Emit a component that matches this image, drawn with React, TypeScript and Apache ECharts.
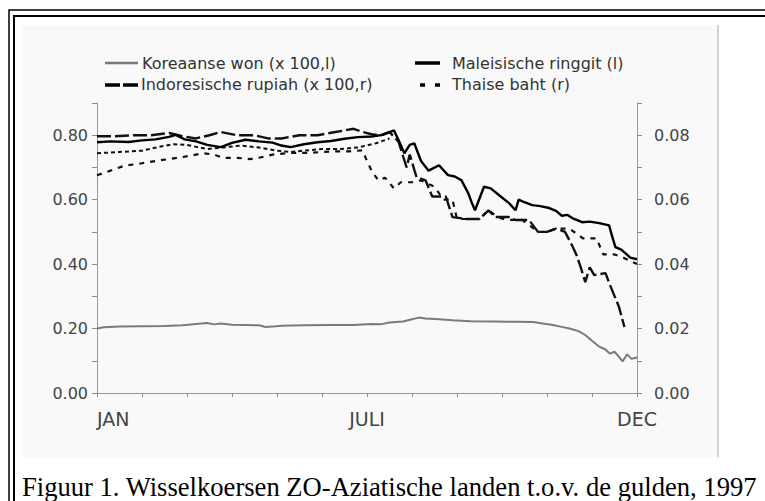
import React, { useEffect, useRef } from "react";
import * as echarts from "echarts";

// x = month index (0 = begin januari, 12 = eind december)
const X_LABELS: Record<number, string> = { 0: "JAN", 6: "JULI", 12: "DEC" };

const NAME_KRW = "Koreaanse won (x 100,l)";
const NAME_MYR = "Maleisische ringgit (l)";
const NAME_IDR = "Indoresische rupiah (x 100,r)";
const NAME_THB = "Thaise baht (r)";

// left axis
const KRW: [number, number][] = [
  [0, 0.2], [0.15, 0.204], [0.5, 0.206], [1.0, 0.207], [1.5, 0.208], [1.9, 0.21], [2.2, 0.214],
  [2.45, 0.217], [2.6, 0.213], [2.75, 0.216], [3.0, 0.212], [3.3, 0.211], [3.6, 0.21], [3.75, 0.205],
  [3.9, 0.206], [4.1, 0.209], [4.6, 0.21], [5.2, 0.211], [5.7, 0.211], [6.1, 0.214], [6.3, 0.213],
  [6.5, 0.219], [6.8, 0.222], [7.0, 0.229], [7.15, 0.234], [7.3, 0.231], [7.6, 0.229], [7.9, 0.226],
  [8.3, 0.223], [8.8, 0.222], [9.3, 0.221], [9.7, 0.22], [9.9, 0.216], [10.1, 0.212], [10.3, 0.206],
  [10.5, 0.2], [10.7, 0.192], [10.85, 0.18], [11.0, 0.162], [11.15, 0.145], [11.3, 0.135],
  [11.4, 0.122], [11.5, 0.128], [11.6, 0.112], [11.68, 0.098], [11.78, 0.12], [11.88, 0.106], [12.0, 0.11],
];

// left axis
const MYR: [number, number][] = [
  [0, 0.778], [0.3, 0.781], [0.7, 0.779], [1.0, 0.784], [1.3, 0.787], [1.6, 0.795], [1.75, 0.801],
  [1.95, 0.787], [2.2, 0.781], [2.45, 0.77], [2.75, 0.763], [3.0, 0.776], [3.3, 0.786], [3.6, 0.781],
  [3.9, 0.777], [4.1, 0.768], [4.3, 0.763], [4.6, 0.772], [4.9, 0.778], [5.2, 0.782], [5.5, 0.789],
  [5.8, 0.794], [6.1, 0.796], [6.35, 0.801], [6.6, 0.815], [6.7, 0.785], [6.83, 0.744], [6.95, 0.77],
  [7.05, 0.775], [7.2, 0.72], [7.37, 0.69], [7.6, 0.707], [7.8, 0.676], [7.95, 0.672], [8.1, 0.66],
  [8.25, 0.62], [8.33, 0.59], [8.4, 0.567], [8.6, 0.64], [8.75, 0.635], [8.95, 0.612], [9.15, 0.59],
  [9.3, 0.567], [9.37, 0.6], [9.5, 0.592], [9.67, 0.583], [9.85, 0.58], [10.05, 0.574], [10.2, 0.565],
  [10.33, 0.55], [10.45, 0.553], [10.56, 0.543], [10.78, 0.53], [10.95, 0.532], [11.16, 0.527],
  [11.38, 0.52], [11.45, 0.485], [11.52, 0.453], [11.65, 0.445], [11.74, 0.434], [11.85, 0.42], [12.0, 0.415],
];

// right axis
const IDR: [number, number][] = [
  [0, 0.0797], [0.4, 0.0797], [0.8, 0.08], [1.2, 0.08], [1.6, 0.0807], [1.9, 0.0797], [2.2, 0.079],
  [2.5, 0.08], [2.75, 0.081], [3.1, 0.08], [3.5, 0.08], [3.8, 0.079], [4.1, 0.079], [4.5, 0.08],
  [4.9, 0.08], [5.3, 0.081], [5.7, 0.082], [5.9, 0.081], [6.1, 0.0803], [6.3, 0.08], [6.5, 0.081],
  [6.7, 0.078], [6.88, 0.07], [6.95, 0.074], [7.1, 0.067], [7.3, 0.066], [7.45, 0.061], [7.75, 0.061],
  [7.9, 0.0546], [8.2, 0.054], [8.5, 0.054], [8.7, 0.0567], [8.85, 0.0546], [9.15, 0.0546],
  [9.3, 0.0537], [9.6, 0.0537], [9.8, 0.05], [10.0, 0.05], [10.2, 0.051], [10.4, 0.05], [10.55, 0.046],
  [10.65, 0.043], [10.75, 0.039], [10.85, 0.0344], [10.95, 0.039], [11.05, 0.0366], [11.3, 0.0372],
  [11.4, 0.0335], [11.6, 0.0267], [11.72, 0.0205],
];

// right axis
const THB: [number, number][] = [
  [0, 0.0676], [0.3, 0.069], [0.6, 0.0705], [1.0, 0.0713], [1.4, 0.0722], [1.8, 0.073], [2.1, 0.0737],
  [2.35, 0.0744], [2.6, 0.074], [2.8, 0.073], [3.1, 0.073], [3.4, 0.0726], [3.6, 0.073], [3.9, 0.074],
  [4.3, 0.0745], [4.7, 0.0745], [5.0, 0.0748], [5.3, 0.075], [5.6, 0.075], [5.9, 0.0753], [6.0, 0.072],
  [6.1, 0.069], [6.25, 0.066], [6.4, 0.0668], [6.6, 0.0635], [6.75, 0.0654], [7.0, 0.0654], [7.2, 0.066],
  [7.5, 0.064], [7.7, 0.06], [7.9, 0.06], [8.0, 0.054], [8.5, 0.054], [8.7, 0.0567], [8.9, 0.0546],
  [9.1, 0.0537], [9.45, 0.0537], [9.8, 0.05], [10.0, 0.05], [10.2, 0.051], [10.5, 0.051], [10.8, 0.048],
  [11.1, 0.048], [11.25, 0.043], [11.5, 0.043], [11.7, 0.042], [12.0, 0.04],
];

// unlabeled line in the picture (left axis)
const EXTRA: [number, number][] = [
  [0, 0.744], [0.5, 0.748], [1.0, 0.752], [1.35, 0.763], [1.7, 0.772], [2.0, 0.77], [2.45, 0.757],
  [2.8, 0.762], [3.2, 0.768], [3.6, 0.762], [4.0, 0.752], [4.3, 0.748], [4.6, 0.752], [5.0, 0.757],
  [5.4, 0.757], [5.8, 0.762], [6.2, 0.775], [6.5, 0.79],
];

const CAPTION = "Figuur 1. Wisselkoersen ZO-Aziatische landen t.o.v. de gulden, 1997";

export default function App() {
  const ref = useRef<HTMLDivElement>(null);
  useEffect(() => {
    document.body.style.margin = "0";
    const chart = echarts.init(ref.current!, null, { renderer: "svg" });
    const font = "DejaVu Sans";
    const axisCol = "#9a9a9a";
    const labelCol = "#444";
    const row1 = 63;
    const row2 = 84;
    const legendTextStyle = (text: string, x: number, y: number) => ({
      type: "text",
      silent: true,
      x,
      y,
      style: {
        text,
        fontFamily: font,
        fontSize: 16,
        fill: "#333",
        align: "left",
        verticalAlign: "middle",
      },
    });
    const legendLine = (x1: number, x2: number, y: number, stroke: string, w: number, dash?: number[]) => ({
      type: "line",
      silent: true,
      shape: { x1, y1: y, x2, y2: y },
      style: { stroke, lineWidth: w, lineDash: dash },
    });
    chart.setOption({
      animation: false,
      backgroundColor: "#ffffff",
      textStyle: { fontFamily: font },
      grid: { left: 97, right: 128, top: 103, bottom: 108 },
      xAxis: {
        type: "value",
        min: 0,
        max: 12,
        interval: 1,
        splitLine: { show: false },
        axisLine: { lineStyle: { color: axisCol, width: 1 } },
        axisTick: { show: true, length: 4, lineStyle: { color: "#888" } },
        axisLabel: {
          formatter: (v: number) => X_LABELS[Math.round(v)] ?? "",
          alignMinLabel: "left",
          margin: 16,
          fontSize: 19,
          color: labelCol,
        },
      },
      yAxis: [
        {
          type: "value",
          position: "left",
          min: 0,
          max: 0.9,
          interval: 0.1,
          splitLine: { show: false },
          axisLine: { show: true, lineStyle: { color: axisCol, width: 1 } },
          axisTick: { show: true, length: 5, lineStyle: { color: "#888" } },
          axisLabel: {
            formatter: (v: number) => (Math.round(v * 100) % 20 === 0 ? v.toFixed(2) : ""),
            margin: 9,
            fontSize: 16,
            color: labelCol,
          },
        },
        {
          type: "value",
          position: "right",
          min: 0,
          max: 0.09,
          interval: 0.01,
          splitLine: { show: false },
          axisLine: { show: true, lineStyle: { color: axisCol, width: 1 } },
          axisTick: { show: true, length: 5, lineStyle: { color: "#888" } },
          axisLabel: {
            formatter: (v: number) => (Math.round(v * 1000) % 20 === 0 ? v.toFixed(2) : ""),
            margin: 17,
            fontSize: 16,
            color: labelCol,
          },
        },
      ],
      series: [
        {
          name: NAME_KRW, type: "line", yAxisIndex: 0, data: KRW, symbol: "none",
          lineStyle: { color: "#7a7a7a", width: 2 },
        },
        {
          id: "extra", type: "line", yAxisIndex: 0, data: EXTRA, symbol: "none",
          lineStyle: { color: "#111", width: 2, type: [4, 3] },
        },
        {
          name: NAME_THB, type: "line", yAxisIndex: 1, data: THB, symbol: "none",
          lineStyle: { color: "#111", width: 2.2, type: [5, 6] },
        },
        {
          name: NAME_IDR, type: "line", yAxisIndex: 1, data: IDR, symbol: "none",
          lineStyle: { color: "#111", width: 2.4, type: [14, 4] },
        },
        {
          name: NAME_MYR, type: "line", yAxisIndex: 0, data: MYR, symbol: "none",
          lineStyle: { color: "#000", width: 2.4 },
        },
      ],
      graphic: [
        {
          type: "rect", z: -20, silent: true,
          shape: { x: 9, y: 10, width: 780, height: 520 },
          style: { fill: "none", stroke: "#000", lineWidth: 1.5 },
        },
        {
          type: "rect", z: -20, silent: true,
          shape: { x: 14, y: 16, width: 780, height: 520 },
          style: { fill: "none", stroke: "#000", lineWidth: 2 },
        },
        {
          type: "rect", z: -10, silent: true,
          shape: { x: 22, y: 25, width: 696, height: 432 },
          style: { fill: "#f9f9f9" },
        },
        {
          type: "line", z: -5, silent: true,
          shape: { x1: 718, y1: 25, x2: 718, y2: 457 },
          style: { stroke: "#c4c4c4", lineWidth: 1.5 },
        },
        legendLine(105, 138, row1, "#7a7a7a", 2.5),
        legendTextStyle(NAME_KRW, 142, row1),
        legendLine(415, 440, row1, "#000", 3.5),
        legendTextStyle(NAME_MYR, 452, row1),
        legendLine(105, 138, row2 + 1, "#000", 3.5, [15, 3]),
        legendTextStyle(NAME_IDR, 141, row2),
        legendLine(420, 442, row2 + 1, "#000", 3.5, [5, 10]),
        legendTextStyle(NAME_THB, 452, row2),
        {
          type: "text", silent: true,
          x: 22, y: 487,
          style: {
            text: CAPTION,
            fontFamily: "Liberation Serif",
            fontSize: 26.6,
            fill: "#000",
            align: "left",
            verticalAlign: "middle",
          },
        },
      ],
    });
    return () => chart.dispose();
  }, []);
  return <div ref={ref} style={{ width: 765, height: 501 }} />;
}
